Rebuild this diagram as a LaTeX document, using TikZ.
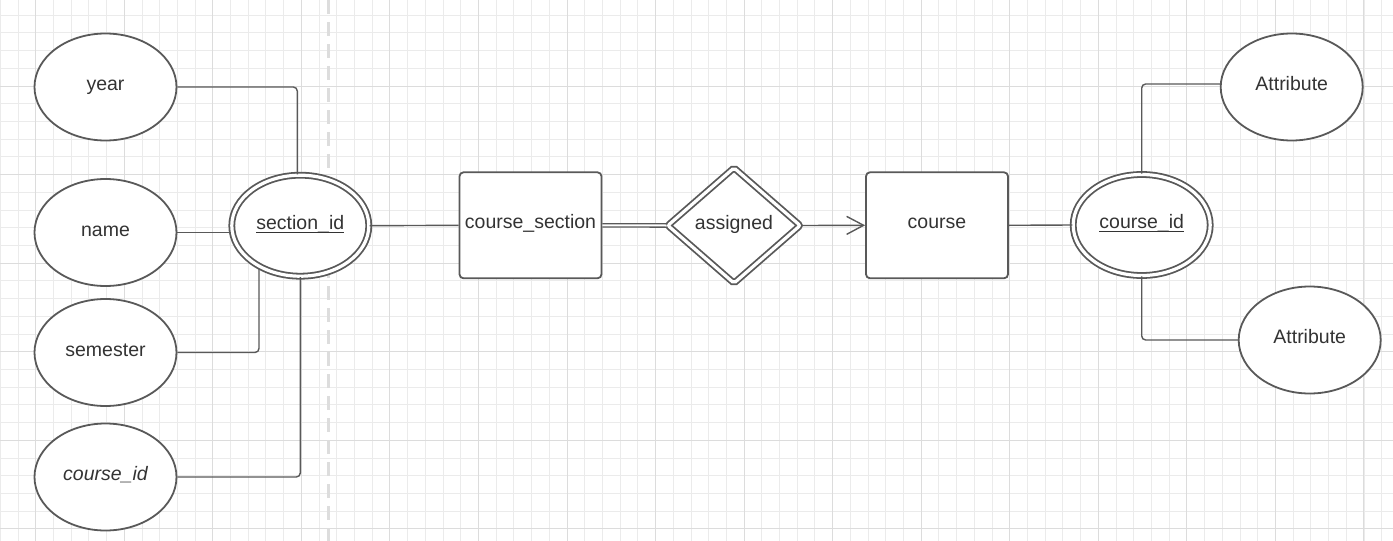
\documentclass[tikz,border=0pt]{standalone}
\usepackage{fontspec}
\setmainfont{Liberation Sans}
\usetikzlibrary{shapes.geometric,arrows.meta}
\definecolor{ln}{HTML}{595959}
\definecolor{tx}{HTML}{333333}
\definecolor{gmin}{HTML}{EBEBEB}
\definecolor{gmaj}{HTML}{DCDCDC}
\definecolor{dsh}{HTML}{DDDDDD}
\newcommand{\ulx}[1]{\setbox0\hbox{#1}\rlap{\rule[-3.8pt]{\wd0}{1.4pt}}\box0}
\begin{document}
\begin{tikzpicture}[x=1pt,y=-1pt,
  lbl/.style={text=tx, font=\fontsize{19.5}{22}\selectfont, text height=11pt, text depth=4pt},
  attr/.style={ellipse, draw=ln, line width=1.8pt, fill=white, minimum width=142pt, minimum height=107pt, inner sep=0pt, lbl},
  keyattr/.style={attr, double=white, double distance=3.2pt, minimum width=137pt, minimum height=101pt},
  entity/.style={rectangle, rounded corners=4pt, draw=ln, line width=1.8pt, fill=white, minimum width=142pt, minimum height=106pt, inner sep=0pt, lbl},
  rel/.style={diamond, draw=ln, line width=1.8pt, double=white, double distance=3.2pt, fill=white, minimum width=133pt, minimum height=116pt, inner sep=0pt, rounded corners=2pt, lbl},
  conn/.style={draw=ln, line width=1.4pt, rounded corners=4pt},
  minorg/.style={draw=gmin, line width=0.9pt},
  majorg/.style={draw=gmaj, line width=1pt}]
\useasboundingbox (0,0) rectangle (1393,541);
\fill[white] (0,0) rectangle (1393,541);
% grid
\foreach \i in {0,...,78} \draw[minorg] (0.28+17.71*\i,0) -- ++(0,541);
\foreach \i in {0,...,29} \draw[minorg] (0,15.2+17.71*\i) -- ++(1393,0);
\foreach \i in {0,...,15} \draw[majorg] (35.7+88.55*\i,0) -- ++(0,541);
\foreach \i in {0,...,5} \draw[majorg] (0,86+88.55*\i) -- ++(1393,0);
\draw[dsh, line width=3pt, dash pattern=on 14pt off 8pt] (328.3,0) -- (328.3,541);

% nodes
\node[attr] (year) at (105.5,87) {year};
\node[attr] (name) at (105.5,232.5) {name};
\node[attr] (sem) at (105.5,352.5) {semester};
\node[attr] (cidl) at (105.5,477) {\itshape course\_id};
\node[keyattr] (sec) at (300.3,225.7) {\ulx{section\_id}};
\node[entity] (cs) at (530.5,225.3) {course\_section};
\node[rel] (asg) at (734,225.5) {assigned};
\node[entity] (course) at (937,225.3) {course};
\node[keyattr] (cid2) at (1141.7,225) {\ulx{course\_id}};
\node[attr] (a1) at (1291.7,87) {Attribute};
\node[attr] (a2) at (1309.7,340) {Attribute};
\coordinate (secsw) at ([shift={(-41.3pt,-43.4pt)}]sec.center);

% connectors
\draw[conn] (year.east) -| ([xshift=-3pt]sec.north);
\draw[conn] (name.east) -- (name.east -| sec.west);
\draw[conn] (sem.east) -| (secsw);
\draw[conn] (cidl.east) -| (sec.south);
\draw[conn] (sec.east) -- (cs.west);
\draw[draw=ln, line width=1.3pt, double=white, double distance=2pt] (cs.east) -- (asg.west);
\draw[conn, -{Straight Barb[length=17pt, width=18pt, line width=1.4pt]}] (asg.east) -- (course.west);
\draw[conn] (course.east) -- (cid2.west);
\draw[conn] (cid2.north) |- ([yshift=3pt]a1.west);
\draw[conn] (cid2.south) |- (a2.west);
\end{tikzpicture}
\end{document}
